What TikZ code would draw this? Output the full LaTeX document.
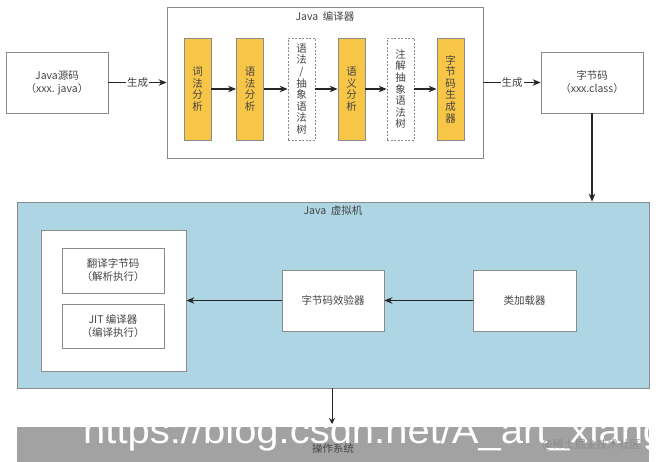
\documentclass[tikz,border=0pt]{standalone}
\usepackage{fontspec}
\setmainfont{Noto Sans CJK SC}
\newfontfamily\wmfont{Liberation Sans}
\usetikzlibrary{arrows.meta}
\definecolor{boxline}{HTML}{8A8A8A}
\definecolor{txt}{HTML}{444444}
\definecolor{yel}{HTML}{F8C646}
\definecolor{jvmblue}{HTML}{ADD5E3}
\definecolor{osgray}{HTML}{A2A2A2}
\tikzset{
  base/.style={draw=boxline, line width=0.8pt, inner sep=0pt, align=center, text=txt,
    font=\fontsize{10.5}{13}\selectfont},
  wbox/.style={base, fill=white, minimum width=102pt, minimum height=61pt},
  vbox/.style={base, minimum width=27pt, minimum height=102pt, font=\fontsize{10.5}{11.6}\selectfont},
  ybox/.style={vbox, fill=yel},
  dbox/.style={vbox, fill=white, dashed, dash pattern=on 2pt off 1.5pt},
  arr/.style={-{Stealth[length=8pt,width=6.5pt]}, line width=1.1pt, draw=black!85},
  lab/.style={fill=white, inner sep=1pt, text=txt, font=\fontsize{10.5}{12}\selectfont},
  ttl/.style={text=txt, font=\fontsize{10.5}{12}\selectfont, inner sep=0pt}
}
\begin{document}
\begin{tikzpicture}[x=1pt,y=-1pt]
\useasboundingbox (0,0) rectangle (668,461);
\clip (0,0) rectangle (668,461);
\fill[white] (0,0) rectangle (668,461);

% compiler
\node[base, minimum width=316pt, minimum height=151pt] (comp) at (325,82.5) {};
\node[ttl] (ctitle) at (325,16) {Java\ \ 编译器};
\node[wbox] (src) at (57,82.5) {Java源码\\（xxx. java）};
\node[wbox] (cls) at (592,82.5) {字节码\\（xxx.class）};

\node[ybox] (lex) at (197.5,89) {词\\法\\分\\析};
\node[ybox] (syn) at (250,89) {语\\法\\分\\析};
\node[dbox] (ast) at (301.5,89) {语\\法\\/\\抽\\象\\语\\法\\树};
\node[ybox] (sem) at (351.5,89) {语\\义\\分\\析};
\node[dbox] (aast) at (400.5,89) {注\\解\\抽\\象\\语\\法\\树};
\node[ybox] (gen) at (450.5,89) {字\\节\\码\\生\\成\\器};

\draw[arr] (src.east) -- node[lab] {生成} (comp.west);
\draw[arr] (comp.east) -- node[lab] {生成} (cls.west);
\draw[arr] (lex) -- (syn);
\draw[arr] (syn) -- (ast);
\draw[arr] (ast) -- (sem);
\draw[arr] (sem) -- (aast);
\draw[arr] (aast) -- (gen);

% JVM
\node[base, fill=jvmblue, minimum width=632pt, minimum height=186pt] (jvm) at (333,295) {};
\node[ttl] (jtitle) at (333,211) {Java\ \ 虚拟机};
\draw[arr] (cls.south) -- (cls.south |- jvm.north);

\node[base, fill=white, minimum width=145pt, minimum height=141pt] (exec) at (113.5,300.5) {};
\node[base, fill=white, minimum width=102pt, minimum height=45pt] (interp) at (113,270.5) {翻译字节码\\（解析执行）};
\node[base, fill=white, minimum width=102pt, minimum height=44pt] (jit) at (113,326) {JIT\ 编译器\\（编译执行）};
\node[wbox] (verif) at (333,300.5) {字节码效验器};
\node[wbox, minimum width=103pt] (loader) at (524.5,300.5) {类加载器};
\draw[arr] (loader.west) -- (verif.east);
\draw[arr] (verif.west) -- (exec.east);

% OS
\fill[osgray] (17,427) rectangle (649,470);
\node[ttl] (os) at (333,448) {操作系统};
\coordinate (jb) at (332,388);
\coordinate (ot) at (332,424);
\draw[-{Stealth[length=6pt,width=6pt]}, line width=0.9pt, draw=black!85] (jb) -- (ot);

% watermarks
\node[anchor=base west, inner sep=0pt, text=white, font=\fontsize{37}{37}\selectfont\wmfont, xscale=1.08] (wm) at (83,443) {https://blog.csdn.net/A\_art\_xiang};
\node[anchor=west, inner sep=0pt, text=black!45, font=\fontsize{11}{12}\selectfont] (wm2) at (542,445) {@稀土掘金技术社区};
\end{tikzpicture}
\end{document}
